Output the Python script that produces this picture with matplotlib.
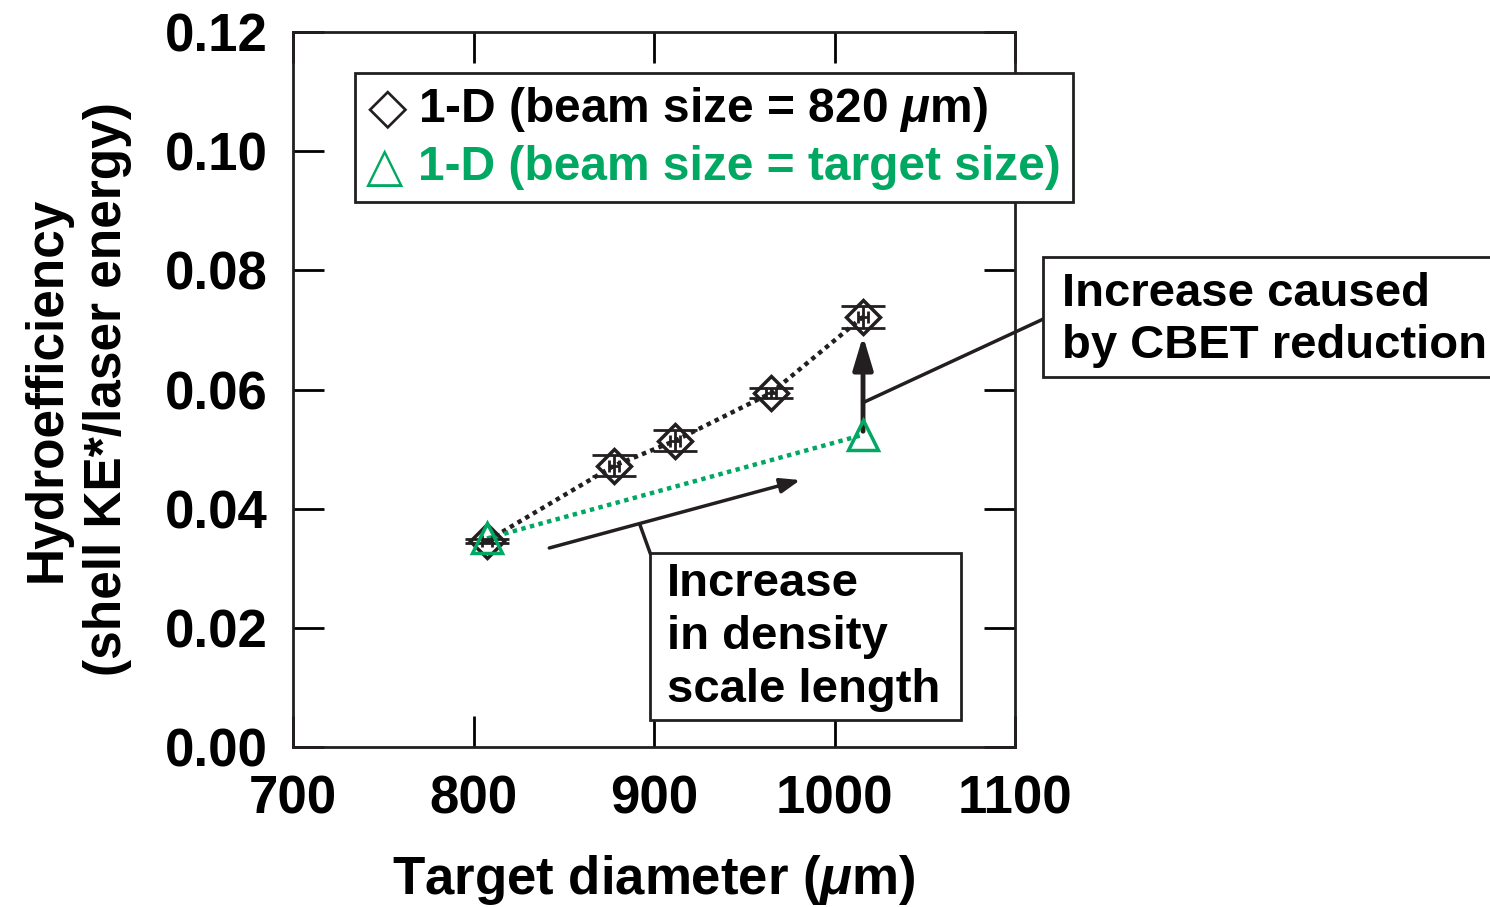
import matplotlib
matplotlib.use("Agg")
import matplotlib.pyplot as plt
from matplotlib.patches import Rectangle

plt.rcParams['font.family'] = ['Liberation Sans', 'DejaVu Sans']
plt.rcParams['font.weight'] = 'bold'
plt.rcParams['axes.labelweight'] = 'bold'
plt.rcParams['mathtext.fontset'] = 'custom'
plt.rcParams['mathtext.it'] = 'Liberation Sans:italic:bold'
plt.rcParams['mathtext.rm'] = 'Liberation Sans:bold'

GREEN = '#00a862'
INK = '#231f20'

# 1-D runs, beam size fixed at 820 um
diam_fixed = [807.5, 877.8, 911.6, 964.8, 1015.8]
hydro_fixed = [0.0346, 0.0472, 0.0514, 0.0594, 0.0722]
xerr_fixed = [3, 3, 3, 3, 3]
yerr_fixed = [0.0003, 0.0018, 0.0018, 0.0008, 0.0018]

# 1-D runs, beam size matched to target
diam_matched = [807.5, 1015.8]
hydro_matched = [0.0350, 0.0524]

W, H = 1490, 907


def px(x, y):
    return x / W, 1 - y / H


fig = plt.figure(figsize=(W / 100, H / 100), dpi=100)
ax = fig.add_axes([293 / W, 1 - 747 / H, (1015 - 293) / W, (747 - 32) / H])

ax.plot(diam_fixed, hydro_fixed, linestyle=(0, (1.0, 1.0)), color=INK, lw=3.2, zorder=2)
ax.errorbar(diam_fixed, hydro_fixed, yerr=yerr_fixed, fmt='none',
            ecolor=INK, elinewidth=2, capsize=16, capthick=2, zorder=3)
ax.errorbar(diam_fixed, hydro_fixed, xerr=xerr_fixed, fmt='none',
            ecolor=INK, elinewidth=2, capsize=4, capthick=2, zorder=3)
ax.plot(diam_fixed, hydro_fixed, 'D', ms=17, mfc='none', mec=INK, mew=2.5, zorder=4)

ax.plot(diam_matched, hydro_matched, linestyle=(0, (1.0, 1.0)), color=GREEN, lw=3.2, zorder=2)
ax.plot(diam_matched, hydro_matched, '^', ms=22, mfc='none', mec=GREEN, mew=2.5, zorder=5)

ax.set_xlim(700, 1100)
ax.set_ylim(0, 0.12)
ax.set_xticks([700, 800, 900, 1000, 1100])
ax.set_yticks([0.00, 0.02, 0.04, 0.06, 0.08, 0.10, 0.12])
ax.set_yticklabels([f'{v:.2f}' for v in ax.get_yticks()])
ax.tick_params(direction='in', length=22, width=2, top=True, right=True,
               labelsize=38)
ax.tick_params(axis='x', pad=20)
ax.tick_params(axis='y', pad=18)
for s in ax.spines.values():
    s.set_linewidth(2)
    s.set_color(INK)

ax.set_xlabel(r'Target diameter ($\mu$m)', fontsize=38, labelpad=20)
ax.set_ylabel('Hydroefficiency\n(shell KE*/laser energy)', fontsize=37,
              labelpad=24, linespacing=1.3)

# arrow: density scale length
ax.annotate('', xy=(981, 0.0448), xytext=(842, 0.0334),
            arrowprops=dict(arrowstyle='-|>,head_length=1.2,head_width=0.45',
                            color=INK, lw=2.5, shrinkA=0, shrinkB=0))
ax.plot([892.2, 897.8], [0.0373, 0.0326], color=INK, lw=2.5, clip_on=False)
# arrow: CBET reduction
ax.annotate('', xy=(1015.8, 0.0690), xytext=(1015.8, 0.0530),
            arrowprops=dict(arrowstyle='-|>,head_length=2.0,head_width=0.6',
                            color=INK, lw=3.5, shrinkA=0, shrinkB=0))
ax.plot([1015.8, 1115.5], [0.0578, 0.0718], color=INK, lw=2.5, clip_on=False)

# legend box
fig.patches.append(Rectangle(px(355, 202), (1073 - 355) / W, (202 - 73) / H,
                             transform=fig.transFigure, fill=True, fc='white',
                             ec=INK, lw=2, zorder=10))
fig.text(*px(368, 110), '\u25c7', fontsize=37, va='center', ha='left',
         family=['DejaVu Sans'], zorder=11, color=INK, fontweight='normal')
fig.text(*px(418, 110), r'1-D (beam size = 820 $\mu$m)', fontsize=34.5,
         va='center', ha='left', zorder=11)
fig.text(*px(366, 167), '\u25b3', fontsize=35, va='center', ha='left',
         family=['DejaVu Sans'], zorder=11, color=GREEN, fontweight='normal')
fig.text(*px(418, 168), '1-D (beam size = target size)', fontsize=34.5,
         va='center', ha='left', color=GREEN, zorder=11)

# density box
fig.patches.append(Rectangle(px(650, 720), (961 - 650) / W, (720 - 553) / H,
                             transform=fig.transFigure, fill=True, fc='white',
                             ec=INK, lw=2, zorder=10))
fig.text(*px(667, 637), 'Increase\nin density\nscale length', fontsize=34,
         va='center', ha='left', linespacing=1.25, zorder=11)

# CBET box
fig.patches.append(Rectangle(px(1043, 377), (1500 - 1043) / W, (377 - 257) / H,
                             transform=fig.transFigure, fill=True, fc='white',
                             ec=INK, lw=2, zorder=10))
fig.text(*px(1062, 320), 'Increase caused\nby CBET reduction', fontsize=34,
         va='center', ha='left', linespacing=1.25, zorder=11)

fig.savefig('out.png', dpi=100)
